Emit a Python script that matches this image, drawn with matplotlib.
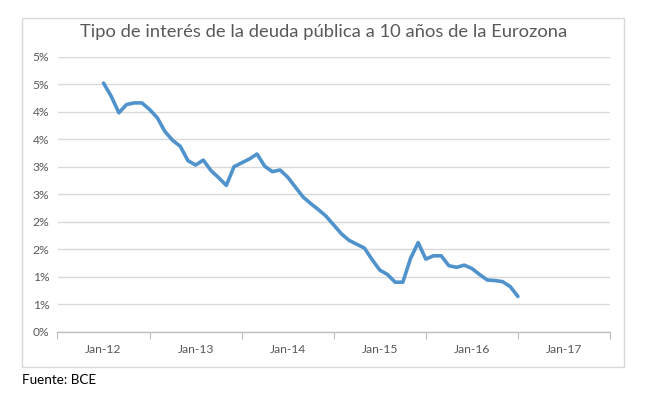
import matplotlib
matplotlib.use("Agg")
import matplotlib.pyplot as plt
from matplotlib.patches import Rectangle
import numpy as np
import pandas as pd

# ---- data ----
dates = pd.date_range("2012-01-01", periods=55, freq="MS")
yields = [4.52, 4.28, 3.98, 4.13, 4.16, 4.16, 4.04, 3.89, 3.64, 3.48,
          3.37, 3.11, 3.03, 3.12, 2.93, 2.80, 2.66, 3.00, 3.07, 3.14,
          3.23, 3.01, 2.91, 2.94, 2.81, 2.63, 2.45, 2.33, 2.22, 2.10,
          1.94, 1.78, 1.66, 1.59, 1.52, 1.31, 1.12, 1.04, 0.90, 0.90,
          1.33, 1.62, 1.32, 1.38, 1.38, 1.20, 1.17, 1.21, 1.15, 1.04,
          0.94, 0.93, 0.91, 0.82, 0.64]
ytick_vals = [0, 0.5, 1.0, 1.5, 2.0, 2.5, 3.0, 3.5, 4.0, 4.5, 5.0]
ytick_labels = ["0%", "1%", "1%", "2%", "2%", "3%", "3%", "4%", "4%", "5%", "5%"]
xtick_labels = ["Jan-12", "Jan-13", "Jan-14", "Jan-15", "Jan-16", "Jan-17"]
title = "Tipo de interés de la deuda pública a 10 años de la Eurozona"
source = "Fuente: BCE"

months = np.array([(d.year - 2012) * 12 + d.month - 1 for d in dates])

plt.rcParams['font.family'] = ['Lato', 'DejaVu Sans']

W, H = 654, 398
fig = plt.figure(figsize=(W / 100, H / 100), dpi=100)
fig.patch.set_facecolor("white")

# chart frame
fig.patches.append(Rectangle((22 / W, 1 - 367 / H), (624 - 22) / W, (367 - 18) / H,
                             transform=fig.transFigure, fill=False,
                             edgecolor="#d9d9d9", linewidth=1.0))

ax = fig.add_axes([57.5 / W, 1 - 331.7 / H, (610 - 57.5) / W, (331.7 - 56.7) / H])
ax.plot(months, yields, color="#5093cc", linewidth=2.6, solid_joinstyle="round",
        solid_capstyle="round")

ax.set_xlim(-6, 66)
ax.set_ylim(0, 5.0)

ax.set_yticks(ytick_vals)
ax.set_yticklabels(ytick_labels)
ax.yaxis.grid(True, color="#d9d9d9", linewidth=1.0)
ax.set_axisbelow(True)
ax.tick_params(axis="y", length=0, pad=6, labelsize=8.7, labelcolor="#595959")

ax.set_xticks(np.arange(-6, 67, 12))
ax.set_xticklabels([])
ax.set_xticks(np.arange(0, 61, 12), minor=True)
ax.set_xticklabels(xtick_labels, minor=True)
ax.tick_params(axis="x", which="major", length=5, direction="out", color="#bfbfbf")
ax.tick_params(axis="x", which="minor", length=0, pad=9, labelsize=8.7, labelcolor="#595959")

for s in ["top", "right", "left"]:
    ax.spines[s].set_visible(False)
ax.spines["bottom"].set_color("#bfbfbf")
ax.spines["bottom"].set_linewidth(1.0)

fig.text(324 / W, 1 - 32 / H, title, ha="center", va="center",
         fontsize=13.2, color="#595959")
fig.text(22 / W, 1 - 380 / H, source, ha="left", va="center",
         fontsize=9.7, color="#000000")

fig.savefig("out.png", dpi=100, facecolor="white")
